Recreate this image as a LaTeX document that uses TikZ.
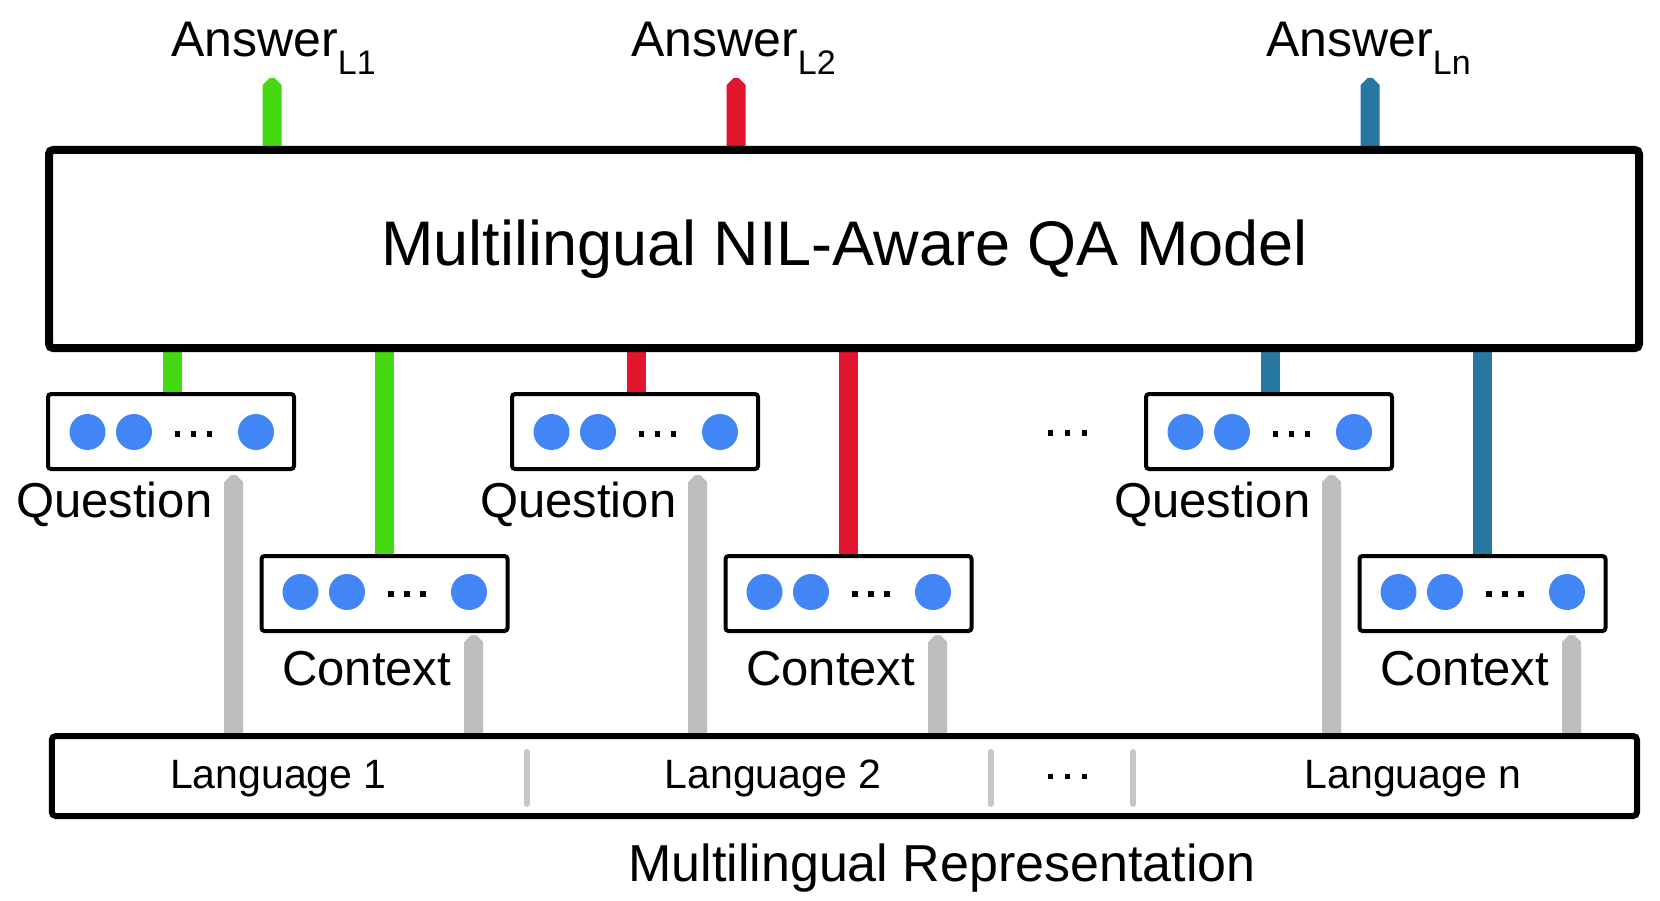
\documentclass[tikz,border=0pt]{standalone}
\usepackage{fontspec}
\setmainfont{Liberation Sans}
\usetikzlibrary{calc}
\pgfdeclarelayer{bg}
\pgfsetlayers{bg,main}
\definecolor{ansgreen}{RGB}{68,217,16}
\definecolor{ansred}{RGB}{227,20,45}
\definecolor{ansblue}{RGB}{39,120,160}
\definecolor{dotblue}{RGB}{66,133,244}
\definecolor{stemgray}{RGB}{189,189,189}
\definecolor{sepgray}{RGB}{198,198,198}
\tikzset{
  bigbox/.style={draw=black, line width=8pt, rounded corners=4pt, fill=white, inner sep=0pt},
  langbox/.style={draw=black, line width=6pt, rounded corners=4pt, fill=white, inner sep=0pt},
  vecbox/.style={draw=black, line width=4pt, rounded corners=3pt, fill=white, inner sep=0pt, minimum width=246pt, minimum height=75pt},
  unit/.style={circle, fill=dotblue, inner sep=0pt, minimum size=36pt},
  blob/.style={rectangle, fill=black, inner sep=0pt, minimum size=5.5pt},
  lbl/.style={font=\fontsize{49}{49}\selectfont, inner sep=0pt, anchor=base west},
  anslbl/.style={font=\fontsize{50}{50}\selectfont, inner sep=0pt, anchor=base west},
  langlbl/.style={font=\fontsize{41}{41}\selectfont, inner sep=0pt, anchor=base},
  sepline/.style={draw=sepgray, line width=6pt, line cap=round},
  bar/.style={line width=19pt}
}
\newcommand\stemup[3]{\fill[#1] let \p1=(#2), \p2=(#3) in
  (\x1-9.5pt,\y2) -- (\x1-9.5pt,\y1-7pt) -- (\x1-2.5pt,\y1) -- (\x1+2.5pt,\y1)
  -- (\x1+9.5pt,\y1-7pt) -- (\x1+9.5pt,\y2) -- cycle;}
\begin{document}
\begin{tikzpicture}[x=1pt,y=-1pt]
\useasboundingbox (0,0) rectangle (1660,901);

% main model box
\node[bigbox, minimum width=1590pt, minimum height=198pt] (model) at (844,249) {};
\node[font=\fontsize{63}{63}\selectfont, inner sep=0pt, anchor=base] (title) at (844.5,266) {Multilingual NIL-Aware QA Model};

% language box
\node[langbox, minimum width=1585.3pt, minimum height=80pt] (lang) at (844.4,776) {};
\node[langlbl] (lang1) at (278.5,788) {Language 1};
\node[langlbl] (lang2) at (773,788) {Language 2};
\node[langlbl] (langn) at (1413,788) {Language n};
\draw[sepline] (527,752) -- (527,804);
\draw[sepline] (990.7,752) -- (990.7,804);
\draw[sepline] (1133,752) -- (1133,804);
\node[blob] (ld1) at (1050.7,776.7) {};
\node[blob] (ld2) at (1067.7,776.7) {};
\node[blob] (ld3) at (1084.7,776.7) {};
\node[font=\fontsize{52}{52}\selectfont, inner sep=0pt, anchor=base] (rep) at (942,881) {Multilingual Representation};

% middle dots between groups
\node[blob] (md1) at (1050.7,433) {};
\node[blob] (md2) at (1067.7,433) {};
\node[blob] (md3) at (1084.7,433) {};

\foreach \g/\dx/\col/\ax/\alx in {1/0/ansgreen/272/171, 2/464/ansred/736/631, n/1098/ansblue/1370/1266} {
  % vectors
  \node[vecbox] (q\g) at (171+\dx,431.5) {};
  \node[vecbox] (c\g) at (384.5+\dx,593.5) {};
  \node[unit] (q\g u1) at ($(q\g)+(-83.5,0.5)$) {};
  \node[unit] (q\g u2) at ($(q\g)+(-37,0.5)$) {};
  \node[unit] (q\g u3) at ($(q\g)+(85,0.5)$) {};
  \node[unit] (c\g u1) at ($(c\g)+(-84,-1.5)$) {};
  \node[unit] (c\g u2) at ($(c\g)+(-37.5,-1.5)$) {};
  \node[unit] (c\g u3) at ($(c\g)+(84.5,-1.5)$) {};
  \foreach \k/\ox in {1/6.5,2/22.5,3/38.5} {
    \node[blob] (q\g d\k) at ($(q\g)+(\ox,2.5)$) {};
    \node[blob] (c\g d\k) at ($(c\g)+(\ox,0.5)$) {};
  }
  \node[lbl] (ql\g) at (16+\dx,517) {Question};
  \node[lbl] (cl\g) at (282+\dx,685) {Context};
  % answer label
  \node[anslbl] (ans\g) at (\alx,57) {Answer\raisebox{-18pt}{\fontsize{34}{34}\selectfont L\g}};
  \coordinate (at\g) at (\ax,78);
  \coordinate (qs\g) at ($(q\g.north)+(1,4)$);
  \coordinate (cs\g) at ($(c\g.north)+(0,4)$);
  \coordinate (qg\g) at ($(q\g.south)+(62.5,4)$);
  \coordinate (cg\g) at ($(c\g.south)+(89,2)$);
  \begin{pgfonlayer}{bg}
    \stemup{\col}{at\g}{at\g |- model.center}
    \draw[bar, draw=\col] (qs\g) -- (qs\g |- model.center);
    \draw[bar, draw=\col] (cs\g) -- (cs\g |- model.center);
    \stemup{stemgray}{qg\g}{qg\g |- lang.center}
    \stemup{stemgray}{cg\g}{cg\g |- lang.center}
  \end{pgfonlayer}
}
\end{tikzpicture}
\end{document}
